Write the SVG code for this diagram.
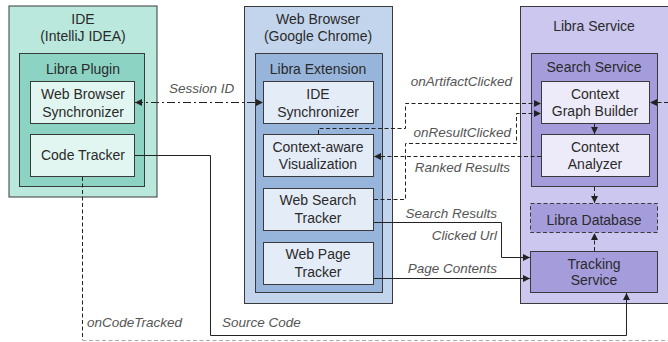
<svg xmlns="http://www.w3.org/2000/svg" width="668" height="342" viewBox="0 0 668 342">
<defs>
<marker id="ah" viewBox="0 0 10 10" refX="10" refY="5" markerWidth="7" markerHeight="7" markerUnits="userSpaceOnUse" orient="auto-start-reverse">
<path d="M0,0 L10,5 L0,10 z" fill="#222"/>
</marker>
<style>
text{font-family:"Liberation Sans",Arial,sans-serif;fill:#2a2a2a;font-size:14px;text-anchor:middle}
.lbl{font-style:italic;fill:#555;font-size:13.5px;text-anchor:end}
.lbl2{font-style:italic;fill:#555;font-size:13.5px;text-anchor:start}
.box{stroke:#3a3a3a;stroke-width:1}
.ide1{fill:#bae8dc}.ide2{fill:#8dd3c4}.ide3{fill:#e2f6f1}
.wb1{fill:#c3d5ec}.wb2{fill:#97b5da}.wb3{fill:#e4ecf8}
.ls1{fill:#cbc7ee}.ls2{fill:#a59cdc}.ls3{fill:#edebf9}
.c{fill:none;stroke:#222;stroke-width:1}
.d{stroke-dasharray:4 2.5}
.dd{stroke-dasharray:8 3 2 3}
.g{stroke:#aaa;stroke-dasharray:4 2.5}
</style>
</defs>

<g id="ide">
<rect class="box ide1" x="9" y="6" width="148" height="191"/>
<text x="83" y="24">IDE</text>
<text x="83" y="41">(IntelliJ IDEA)</text>
</g>
<g id="libra-plugin">
<rect class="box ide2" x="19.5" y="53.5" width="125" height="133"/>
<text x="83" y="74">Libra Plugin</text>
</g>
<g id="web-browser-synchronizer">
<rect class="box ide3" x="30.5" y="81.5" width="104" height="42"/>
<text x="83" y="99">Web Browser</text>
<text x="83" y="117">Synchronizer</text>
</g>
<g id="code-tracker">
<rect class="box ide3" x="30.5" y="134.5" width="104" height="42"/>
<text x="83" y="160">Code Tracker</text>
</g>

<g id="web-browser">
<rect class="box wb1" x="244.5" y="6.5" width="148" height="297"/>
<text x="318" y="24">Web Browser</text>
<text x="318" y="41">(Google Chrome)</text>
</g>
<g id="libra-extension">
<rect class="box wb2" x="255.5" y="53.5" width="127" height="239"/>
<text x="318" y="74">Libra Extension</text>
</g>
<g id="ide-synchronizer">
<rect class="box wb3" x="263.5" y="81.5" width="110" height="42"/>
<text x="318" y="99">IDE</text>
<text x="318" y="117">Synchronizer</text>
</g>
<g id="context-aware-visualization">
<rect class="box wb3" x="263.5" y="134.5" width="110" height="42"/>
<text x="318" y="152">Context-aware</text>
<text x="318" y="169">Visualization</text>
</g>
<g id="web-search-tracker">
<rect class="box wb3" x="263.5" y="188.5" width="110" height="42"/>
<text x="318" y="205">Web Search</text>
<text x="318" y="223">Tracker</text>
</g>
<g id="web-page-tracker">
<rect class="box wb3" x="263.5" y="242.5" width="110" height="42"/>
<text x="318" y="259">Web Page</text>
<text x="318" y="277">Tracker</text>
</g>

<g id="libra-service">
<rect class="box ls1" x="520.5" y="6.5" width="160" height="297"/>
<text x="594" y="31">Libra Service</text>
</g>
<g id="search-service">
<rect class="box ls2" x="531.5" y="53.5" width="126" height="133"/>
<text x="594" y="72">Search Service</text>
</g>
<g id="context-graph-builder">
<rect class="box ls3" x="541.5" y="81.5" width="108" height="42"/>
<text x="595" y="99">Context</text>
<text x="595" y="116">Graph Builder</text>
</g>
<g id="context-analyzer">
<rect class="box ls3" x="541.5" y="134.5" width="108" height="42"/>
<text x="595" y="152">Context</text>
<text x="595" y="169">Analyzer</text>
</g>
<g id="libra-database">
<rect class="box ls2" x="530.5" y="203.5" width="127" height="29" stroke-dasharray="4 2.5"/>
<text x="594" y="225">Libra Database</text>
</g>
<g id="tracking-service">
<rect class="box ls2" x="530.5" y="251.5" width="127" height="41"/>
<text x="594" y="269">Tracking</text>
<text x="594" y="285">Service</text>
</g>

<g id="connectors">
<path class="c dd" d="M135,102.5 H263" marker-start="url(#ah)" marker-end="url(#ah)"/>
<path class="c d" d="M318.5,134 V128.5 H405.5 V103.5 H541" marker-end="url(#ah)"/>
<path class="c d" d="M374,199.5 H405.5 V143.5 H516.5 V113.5 H541" marker-end="url(#ah)"/>
<path class="c d" d="M541,156.5 H374" marker-end="url(#ah)"/>
<path class="c d" d="M668,102.5 H650" marker-end="url(#ah)"/>
<path class="c" d="M374,222.5 H501.5 V257.5 H530" marker-end="url(#ah)"/>
<path class="c" d="M374,278.5 H530" marker-end="url(#ah)"/>
<path class="c" d="M135,155.5 H210.5 V335.5 H626.5 V293" marker-end="url(#ah)"/>
<path class="c d" d="M82.5,177 V340" stroke="#555"/>
<path class="c g" d="M82.5,340.5 H668"/>
<path class="c" d="M594.5,124 V134" marker-end="url(#ah)"/>
<path class="c d" d="M594.5,187 V203" marker-end="url(#ah)"/>
<path class="c d" d="M594.5,251 V233" marker-end="url(#ah)"/>
<text class="lbl2" x="169" y="93">Session ID</text>
<text class="lbl" x="512" y="86">onArtifactClicked</text>
<text class="lbl" x="511" y="137">onResultClicked</text>
<text class="lbl" x="510" y="172">Ranked Results</text>
<text class="lbl" x="497" y="218">Search Results</text>
<text class="lbl" x="497" y="240">Clicked Url</text>
<text class="lbl" x="497" y="273">Page Contents</text>
<text class="lbl2" x="87" y="327">onCodeTracked</text>
<text class="lbl2" x="222" y="327">Source Code</text>
</g>
</svg>
